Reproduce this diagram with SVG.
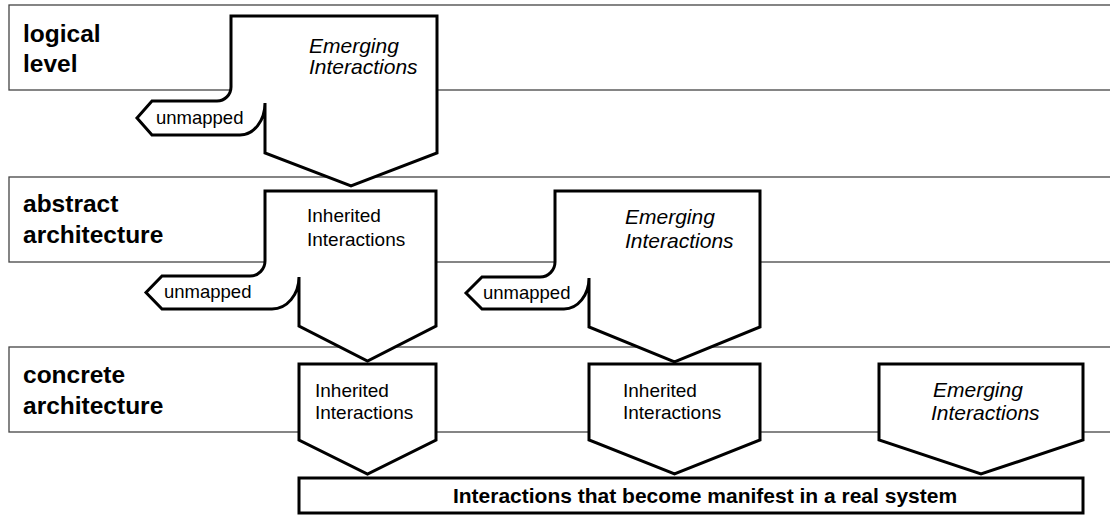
<svg xmlns="http://www.w3.org/2000/svg" width="1110" height="515" viewBox="0 0 1110 515">
<style>
.band{fill:#fff;stroke:#444;stroke-width:1.3}
.shape{fill:#fff;stroke:#000;stroke-width:3;stroke-linejoin:miter}
text{font-family:"Liberation Sans",Arial,sans-serif;fill:#000}
.lvl{font-size:24.5px;font-weight:bold}
.em{font-size:21px;font-style:italic}
.inh{font-size:19px}
.un{font-size:18.5px}
.sys{font-size:21px;font-weight:bold}
</style>
<rect width="1110" height="515" fill="#fff"/>
<g id="level-logical">
<rect class="band" x="9" y="5" width="1110" height="85"/>
<text class="lvl" x="23" y="42">logical</text>
<text class="lvl" x="23" y="72">level</text>
</g>
<g id="level-abstract">
<rect class="band" x="9" y="177" width="1110" height="85"/>
<text class="lvl" x="23" y="212">abstract</text>
<text class="lvl" x="23" y="243">architecture</text>
</g>
<g id="level-concrete">
<rect class="band" x="9" y="347" width="1110" height="85"/>
<text class="lvl" x="23" y="383">concrete</text>
<text class="lvl" x="23" y="414">architecture</text>
</g>
<g id="connectors"></g>
<g id="logical-emerging">
<path class="shape" d="M265 103 L265 153 L351 186 L437 153 L437 16 L231 16 L231 87 A14 14 0 0 1 217 101 L152 101 L137 118 L152 135 L240 135 A25 32 0 0 0 265 103 Z"/>
<text class="em" x="309" y="53">Emerging</text>
<text class="em" x="309" y="74">Interactions</text>
<text class="un" x="156" y="124">unmapped</text>
</g>
<g id="abstract-inherited">
<path class="shape" d="M299 277 L299 326 L367.5 361 L436 326 L436 191 L265 191 L265 261 A15 15 0 0 1 250 276 L162 276 L146 292.5 L162 309 L272 309 A27 32 0 0 0 299 277 Z"/>
<text class="inh" x="307" y="222">Inherited</text>
<text class="inh" x="307" y="246">Interactions</text>
<text class="un" x="164" y="298">unmapped</text>
</g>
<g id="abstract-emerging">
<path class="shape" d="M589 278 L589 327 L674.5 362 L760 327 L760 191 L555 191 L555 262 A15 15 0 0 1 540 277 L482 277 L466 293 L482 309 L564 309 A25 31 0 0 0 589 278 Z"/>
<text class="em" x="625" y="224">Emerging</text>
<text class="em" x="625" y="248">Interactions</text>
<text class="un" x="483" y="299">unmapped</text>
</g>
<g id="concrete-inherited-1">
<path class="shape" d="M299 364 L436 364 L436 440 L367.5 474 L299 440 Z"/>
<text class="inh" x="315" y="397">Inherited</text>
<text class="inh" x="315" y="419">Interactions</text>
</g>
<g id="concrete-inherited-2">
<path class="shape" d="M589 364 L760 364 L760 440 L674.5 474 L589 440 Z"/>
<text class="inh" x="623" y="397">Inherited</text>
<text class="inh" x="623" y="419">Interactions</text>
</g>
<g id="concrete-emerging">
<path class="shape" d="M879 364 L1083 364 L1083 440 L981 474 L879 440 Z"/>
<text class="em" x="933" y="397">Emerging</text>
<text class="em" x="931" y="420">Interactions</text>
</g>
<g id="real-system">
<rect class="shape" x="299" y="478" width="784" height="35"/>
<text class="sys" x="705" y="503" text-anchor="middle">Interactions that become manifest in a real system</text>
</g>
</svg>
